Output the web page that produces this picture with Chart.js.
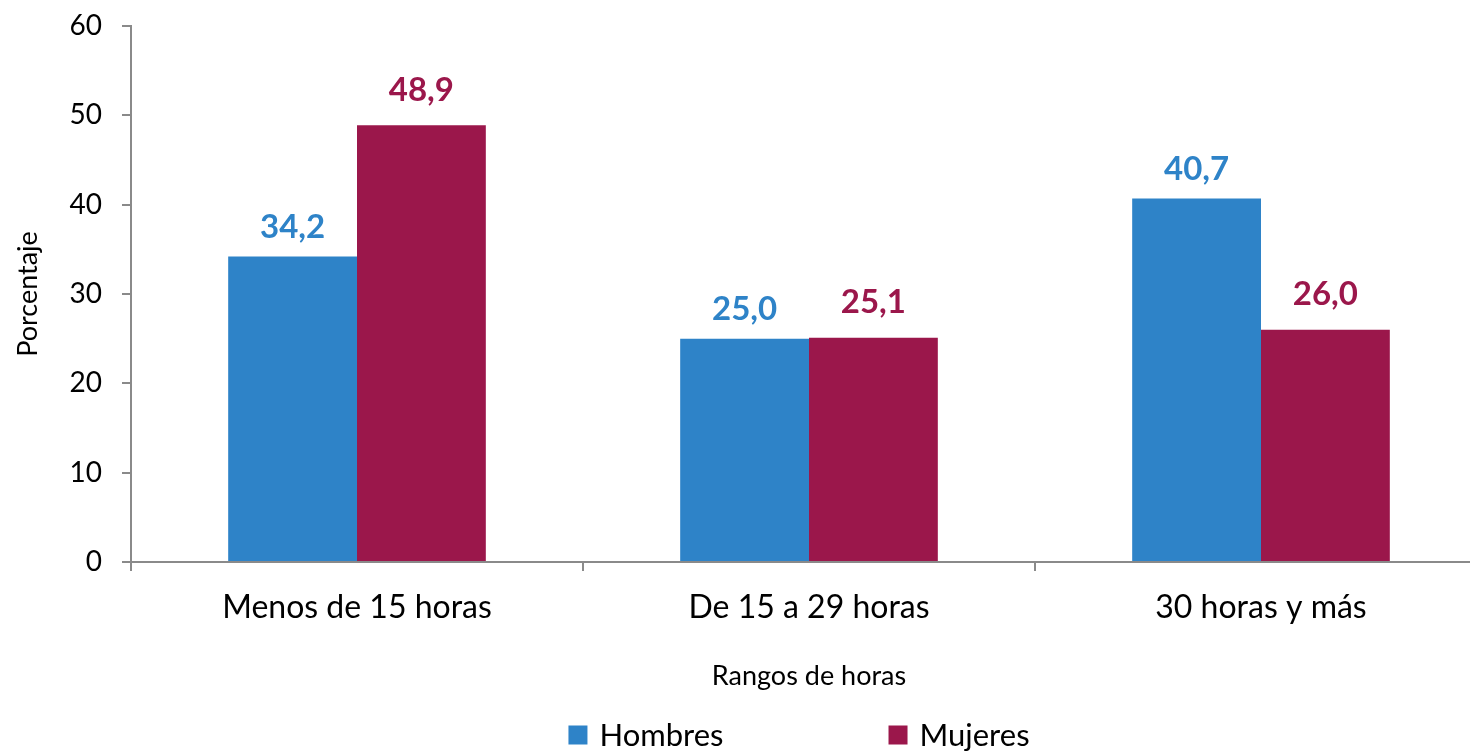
<!DOCTYPE html>
<html>
<head>
<meta charset="utf-8">
<script src="https://cdn.jsdelivr.net/npm/chart.js@4/dist/chart.umd.min.js"></script>
<style>
  html, body { margin: 0; padding: 0; background: #fff; overflow: hidden; }
</style>
</head>
<body>
<canvas id="horas" width="1490" height="754"></canvas>
<script>
// datos
var categorias = ['Menos de 15 horas', 'De 15 a 29 horas', '30 horas y más'];
var hombres = [34.2, 25.0, 40.7];
var mujeres = [48.9, 25.1, 26.0];
var ticksY = [0, 10, 20, 30, 40, 50, 60];

var azul = '#2E83C8';
var granate = '#9B174B';
var gris = '#8a8a8a';
var fuente = 'Lato, Carlito, Calibri, sans-serif';

function coma(v) {
  return v.toFixed(1).replace('.', ',');
}

// etiquetas de valor encima de cada barra
var etiquetas = {
  id: 'etiquetas',
  afterDatasetsDraw: function (chart) {
    var ctx = chart.ctx;
    ctx.save();
    ctx.font = 'bold 33px ' + fuente;
    ctx.textAlign = 'center';
    ctx.textBaseline = 'middle';
    chart.data.datasets.forEach(function (ds, i) {
      var meta = chart.getDatasetMeta(i);
      var sube = i === 0 ? 29 : 35;
      ctx.fillStyle = ds.backgroundColor;
      meta.data.forEach(function (bar, j) {
        ctx.fillText(coma(ds.data[j]), bar.x, bar.y - sube);
      });
    });
    ctx.restore();
  }
};

// leyenda abajo, con mucho espacio entre los dos elementos
var leyenda = {
  id: 'leyenda',
  afterDraw: function (chart) {
    var ctx = chart.ctx;
    var area = chart.chartArea;
    var caja = 19, hueco = 12, sep = 165;
    ctx.save();
    ctx.font = '31px ' + fuente;
    ctx.textBaseline = 'middle';
    var anchos = chart.data.datasets.map(function (ds) {
      return caja + hueco + ctx.measureText(ds.label).width;
    });
    var total = anchos.reduce(function (a, b) { return a + b; }, 0) + sep * (anchos.length - 1);
    var x = (area.left + area.right) / 2 - 10 - total / 2;
    var y = 736;
    chart.data.datasets.forEach(function (ds, i) {
      ctx.fillStyle = ds.backgroundColor;
      ctx.fillRect(x, y - caja / 2 - 1, caja, caja);
      ctx.fillStyle = '#000';
      ctx.fillText(ds.label, x + caja + hueco, y);
      x += anchos[i] + sep;
    });
    ctx.restore();
  }
};

var ctx = document.getElementById('horas');
var grafico = new Chart(ctx, {
  type: 'bar',
  data: {
    labels: categorias,
    datasets: [{
      label: 'Hombres',
      data: hombres,
      backgroundColor: azul,
      categoryPercentage: 0.57,
      barPercentage: 1
    }, {
      label: 'Mujeres',
      data: mujeres,
      backgroundColor: granate,
      categoryPercentage: 0.57,
      barPercentage: 1
    }]
  },
  options: {
    responsive: false,
    animation: false,
    layout: { padding: { top: 26, right: 3, left: 0, bottom: 0 } },
    plugins: {
      legend: { display: false },
      tooltip: { enabled: false }
    },
    scales: {
      x: {
        grid: { drawOnChartArea: false, tickLength: 9, color: gris, lineWidth: 2 },
        border: { color: gris, width: 2 },
        ticks: { color: '#000', font: { family: fuente, size: 32 }, padding: 17 },
        title: {
          display: true,
          text: 'Rangos de horas',
          color: '#000',
          font: { family: fuente, size: 27 },
          padding: { top: 0, bottom: 62 }
        },
        afterFit: function (scale) { scale.height = 192; }
      },
      y: {
        min: 0,
        max: 60,
        afterBuildTicks: function (scale) {
          scale.ticks = ticksY.map(function (v) { return { value: v }; });
        },
        grid: { drawOnChartArea: false, tickLength: 9, color: gris, lineWidth: 2 },
        border: { color: gris, width: 2 },
        ticks: { color: '#000', font: { family: fuente, size: 28 }, padding: 20 },
        title: {
          display: true,
          text: 'Porcentaje',
          color: '#000',
          font: { family: fuente, size: 27 },
          padding: { top: 12, bottom: 0 }
        },
        afterFit: function (scale) {
          scale.width = 131;
          scale.paddingTop = 0;
          scale.paddingBottom = 0;
        }
      }
    }
  },
  plugins: [etiquetas, leyenda]
});
</script>
</body>
</html>
